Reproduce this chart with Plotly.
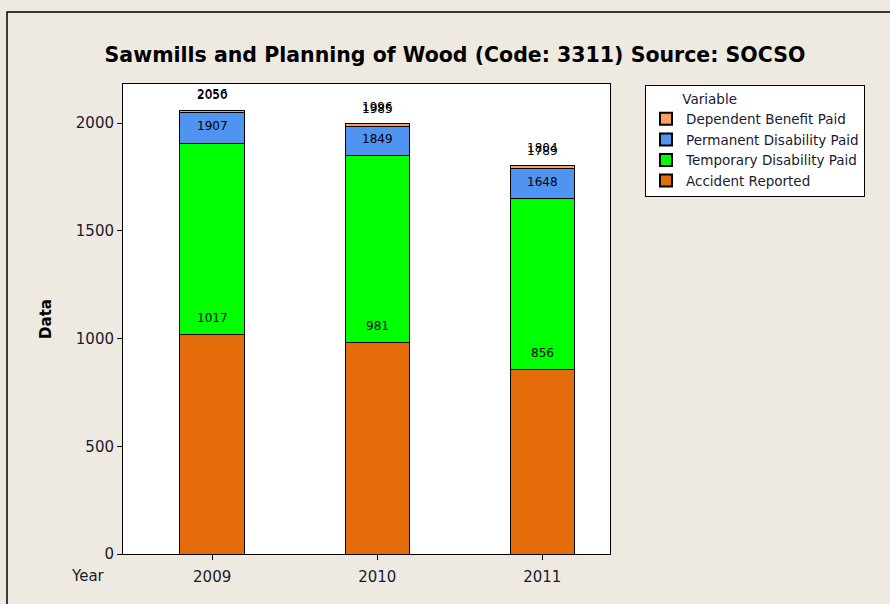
import plotly.graph_objects as go

years = ["2009", "2010", "2011"]
# cumulative stack totals as labelled in the chart
accident_cum = [1017, 981, 856]
temporary_cum = [1907, 1849, 1648]
permanent_cum = [2050, 1985, 1789]
dependent_cum = [2056, 1996, 1804]

series_names = ["Accident Reported", "Temporary Disability Paid",
                "Permanent Disability Paid", "Dependent Benefit Paid"]
colors = ["#E46C0A", "#00FF00", "#4F94F0", "#FF9E5E"]

cums = [accident_cum, temporary_cum, permanent_cum, dependent_cum]
segments = []
prev = [0, 0, 0]
for c in cums:
    segments.append([a - b for a, b in zip(c, prev)])
    prev = c

W, H = 890, 604
L, R, T, B = 123, 610, 84, 554
def px(x):
    return (x - L) / (R - L)
def py(y):
    return (B - y) / (B - T)

fig = go.Figure()
for name, seg, col in zip(series_names, segments, colors):
    fig.add_trace(go.Bar(
        x=years, y=seg, name=name, width=0.39,
        marker=dict(color=col, line=dict(color="black", width=1)),
        hoverinfo="skip",
    ))

annotations = []
for c in cums:
    for i, v in enumerate(c):
        annotations.append(dict(
            x=i, y=v, xref="x", yref="y", text=str(v), showarrow=False,
            xanchor="center", yanchor="bottom", yshift=8,
            font=dict(family="DejaVu Sans", size=12, color="black"),
        ))

annotations.append(dict(
    text="Year", xref="paper", yref="paper",
    x=px(88), y=py(576), xanchor="center", yanchor="middle",
    showarrow=False, font=dict(size=15, color="#1a1a2e"),
))

nb = "\u00a0" * 8

fig.update_layout(
    width=W, height=H,
    barmode="stack",
    paper_bgcolor="#EEEAE1",
    plot_bgcolor="white",
    margin=dict(l=L, r=W - R, t=T, b=H - B, pad=0),
    font=dict(family="DejaVu Sans", size=14, color="#1a1a2e"),
    title=dict(
        text="<b>Sawmills and Planning of Wood (Code: 3311) Source: SOCSO</b>",
        x=455 / W, xanchor="center", xref="container", y=1 - 55 / H, yanchor="middle",
        font=dict(family="DejaVu Sans", size=20.5, color="black"),
    ),
    legend=dict(
        title=dict(text=nb + "Variable", font=dict(size=13.5)),
        traceorder="reversed",
        x=px(645), xanchor="left", y=py(85), yanchor="top",
        bgcolor="white", bordercolor="black", borderwidth=1,
        font=dict(family="DejaVu Sans", size=13.5, color="#1a1a2e"),
        itemsizing="constant", tracegroupgap=0,
    ),
    xaxis=dict(
        type="category", range=[-0.54, 2.41],
        showline=True, linecolor="black", linewidth=1, mirror=True,
        ticks="outside", ticklen=5, tickcolor="black",
        showgrid=False, tickfont=dict(size=15), ticklabelstandoff=4,
    ),
    yaxis=dict(
        range=[0, 2181], tickvals=[0, 500, 1000, 1500, 2000],
        showline=True, linecolor="black", linewidth=1, mirror=True,
        ticks="outside", ticklen=5, tickcolor="black",
        showgrid=False, zeroline=False, tickfont=dict(size=15),
        title=dict(text="<b>Data</b>", standoff=20,
                   font=dict(size=15, color="black")),
    ),
    shapes=[dict(
        type="rect", xref="paper", yref="paper",
        x0=px(7), x1=px(900), y0=py(612), y1=py(12),
        line=dict(color="black", width=1.5), fillcolor="rgba(0,0,0,0)",
        layer="below",
    )],
    annotations=annotations,
)

fig.write_html("out.html")
